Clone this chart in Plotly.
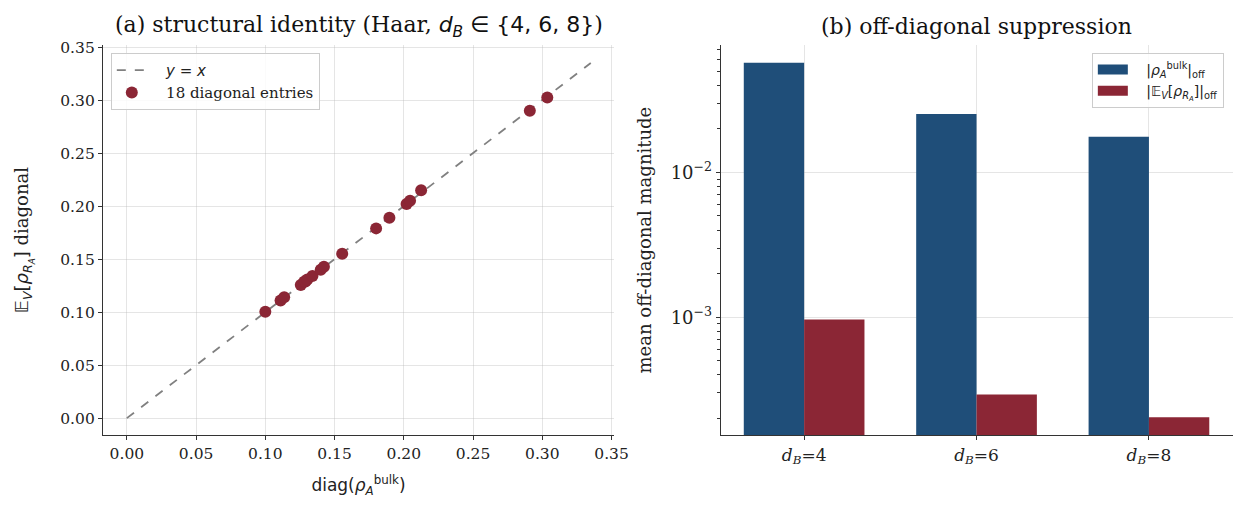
import plotly.graph_objects as go

# ---- data: panel (a) ----
diag_bulk = [0.1000, 0.1110, 0.1136, 0.1256, 0.1280, 0.1290, 0.1303, 0.1340, 0.1400,
             0.1423, 0.1555, 0.1800, 0.1896, 0.2020, 0.2045, 0.2125, 0.2910, 0.3036]
diag_expect = [0.1003, 0.1110, 0.1140, 0.1255, 0.1286, 0.1290, 0.1308, 0.1340, 0.1400,
               0.1427, 0.1550, 0.1790, 0.1890, 0.2020, 0.2050, 0.2150, 0.2900, 0.3025]
ref_line = [0.0, 0.335]

# ---- data: panel (b) ----
categories = [0, 1, 2]
cat_labels = ["<i>d</i><sub><i>B</i></sub>=4", "<i>d</i><sub><i>B</i></sub>=6", "<i>d</i><sub><i>B</i></sub>=8"]
bulk_off = [0.0571, 0.0253, 0.0176]
expect_off = [9.64e-4, 2.93e-4, 2.04e-4]

BLUE = "#1f4e79"
RED = "#8b2635"
SERIF = "DejaVu Serif"
AX = "#333333"
GRID = "rgba(180,180,180,0.35)"
PAD = "\u00a0" * 3

fig = go.Figure()

fig.add_trace(go.Scatter(
    x=ref_line, y=ref_line, mode="lines",
    line=dict(color="#808080", width=1.8, dash="dash"),
    name=PAD + "<span style='font-family:DejaVu Sans'><i>y</i> = <i>x</i></span>",
    xaxis="x", yaxis="y", legend="legend"))
fig.add_trace(go.Scatter(
    x=diag_bulk, y=diag_expect, mode="markers",
    marker=dict(color=RED, size=12),
    name=PAD + "18 diagonal entries", xaxis="x", yaxis="y", legend="legend"))

name_bulk = PAD + "<span style='font-family:DejaVu Sans'>|<i>ρ</i><sub><i>A</i></sub><sup>bulk</sup>|<sub>off</sub></span>"
name_exp = PAD + "<span style='font-family:DejaVu Sans'>|𝔼<sub><i>V</i></sub>[<i>ρ</i><sub><i>R</i><sub><i>A</i></sub></sub>]|<sub>off</sub></span>"

fig.add_trace(go.Bar(
    x=categories, y=bulk_off, marker=dict(color=BLUE, line=dict(width=0)),
    name=name_bulk, showlegend=False, xaxis="x2", yaxis="y2"))
fig.add_trace(go.Bar(
    x=categories, y=expect_off, marker=dict(color=RED, line=dict(width=0)),
    name=name_exp, showlegend=False, xaxis="x2", yaxis="y2"))
# legend swatches (wide rectangles) for the bars
fig.add_trace(go.Scatter(x=[None], y=[None], mode="lines", line=dict(color=BLUE, width=10),
                         name=name_bulk, xaxis="x2", yaxis="y2", legend="legend2"))
fig.add_trace(go.Scatter(x=[None], y=[None], mode="lines", line=dict(color=RED, width=10),
                         name=name_exp, xaxis="x2", yaxis="y2", legend="legend2"))

common = dict(showline=True, linecolor=AX, linewidth=1.2, ticks="outside",
              ticklen=4, tickwidth=1, tickcolor=AX, zeroline=False, automargin=False,
              tickfont=dict(family=SERIF, size=15.5, color="#222"))

fig.update_layout(
    width=1245, height=518,
    margin=dict(l=0, r=0, t=0, b=0, autoexpand=False),
    paper_bgcolor="white", plot_bgcolor="white",
    barmode="group", bargap=0.3, bargroupgap=0,
    font=dict(family=SERIF, size=16, color="#222"),
    xaxis=dict(domain=[0.0827, 0.4932], range=[-0.01725, 0.3518],
               tickvals=[0, 0.05, 0.1, 0.15, 0.2, 0.25, 0.3, 0.35], tickformat=".2f",
               showgrid=True, gridcolor=GRID, gridwidth=1, anchor="y",
               title=dict(text="<span style='font-family:DejaVu Sans'>diag(<i>ρ</i><sub><i>A</i></sub><sup>bulk</sup>)</span>",
                          font=dict(size=17), standoff=17),
               **common),
    yaxis=dict(domain=[0.160, 0.913], range=[-0.016, 0.3519],
               tickvals=[0, 0.05, 0.1, 0.15, 0.2, 0.25, 0.3, 0.35], tickformat=".2f",
               showgrid=True, gridcolor=GRID, gridwidth=1, anchor="x",
               title=dict(text="<span style='font-family:DejaVu Sans'>𝔼<sub><i>V</i></sub>[<i>ρ</i><sub><i>R</i><sub><i>A</i></sub></sub>]</span> diagonal",
                          font=dict(size=18), standoff=26),
               **common),
    xaxis2=dict(domain=[0.579, 0.990], range=[-0.483, 2.485],
                tickvals=categories, ticktext=cat_labels,
                showgrid=True, gridcolor=GRID, gridwidth=1, anchor="y2",
                layer="above traces",
                **{**common, "tickfont": dict(family=SERIF, size=17, color="#222")}),
    yaxis2=dict(domain=[0.160, 0.913], type="log", range=[-3.814, -1.121],
                tickvals=[1e-3, 1e-2], ticktext=["10<sup>−3</sup>", "10<sup>−2</sup>"],
                showgrid=True, gridcolor=GRID, gridwidth=1, anchor="x2",
                layer="above traces",
                minor=dict(ticks="outside", ticklen=2.5, tickcolor=AX, showgrid=False,
                           tickvals=[2e-4, 3e-4, 4e-4, 5e-4, 6e-4, 7e-4, 8e-4, 9e-4,
                                     2e-3, 3e-3, 4e-3, 5e-3, 6e-3, 7e-3, 8e-3, 9e-3,
                                     2e-2, 3e-2, 4e-2, 5e-2, 6e-2, 7e-2]),
                title=dict(text="mean off-diagonal magnitude", font=dict(size=18), standoff=14),
                **{**common, "tickfont": dict(family=SERIF, size=18, color="#222")}),
    legend=dict(x=0.089, y=0.898, xanchor="left", yanchor="top",
                bgcolor="rgba(255,255,255,0.85)", bordercolor="#cccccc", borderwidth=1,
                font=dict(family=SERIF, size=15, color="#222"), tracegroupgap=0,
                itemwidth=30),
    legend2=dict(x=0.983, y=0.898, xanchor="right", yanchor="top",
                 bgcolor="rgba(255,255,255,0.85)", bordercolor="#cccccc", borderwidth=1,
                 font=dict(family=SERIF, size=14, color="#222"), tracegroupgap=0,
                 itemwidth=30),
    showlegend=True,
    annotations=[
        dict(text="(a) structural identity (Haar, <span style='font-family:DejaVu Sans'><i>d</i><sub><i>B</i></sub> ∈ {4, 6, 8}</span>)",
             x=0.288, y=0.948, xref="paper", yref="paper", xanchor="center", yanchor="middle",
             showarrow=False, font=dict(family=SERIF, size=22, color="#111")),
        dict(text="(b) off-diagonal suppression",
             x=0.7845, y=0.948, xref="paper", yref="paper", xanchor="center", yanchor="middle",
             showarrow=False, font=dict(family=SERIF, size=22, color="#111")),
    ],
)

fig.write_html("out.html")
